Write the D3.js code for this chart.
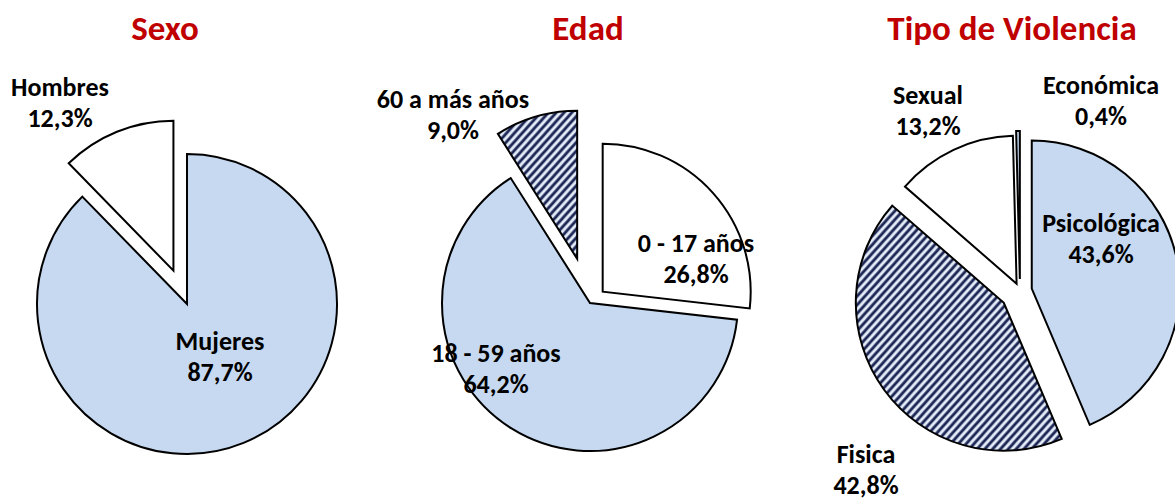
<!DOCTYPE html>
<html>
<head>
<meta charset="utf-8">
<script src="https://cdn.jsdelivr.net/npm/d3@7"></script>
<style>
  html, body { margin: 0; padding: 0; background: #fff; }
  svg { display: block; }
  text { font-family: Carlito, Lato, "Open Sans", sans-serif; font-weight: bold; }
</style>
</head>
<body>
<svg id="chart" width="1175" height="502"></svg>
<script>
// ---- data ----
const sexoCategories = ["Mujeres", "Hombres"];
const sexoValues = [87.7, 12.3];

const edadCategories = ["0 - 17 años", "18 - 59 años", "60 a más años"];
const edadValues = [26.8, 64.2, 9.0];

const tipoCategories = ["Psicológica", "Fisica", "Sexual", "Económica"];
const tipoValues = [43.6, 42.8, 13.2, 0.4];

const chartTitles = ["Sexo", "Edad", "Tipo de Violencia"];

// ---- layout / style ----
const LIGHT = "#c6d9f1";
const panels = [
  { title: chartTitles[0], titleX: 165, cx: 187, cy: 304, r: 150,
    cats: sexoCategories, vals: sexoValues,
    fills: [LIGHT, "#ffffff"], explode: [0, 36],
    labels: [[220, 350], [60, 96]] },
  { title: chartTitles[1], titleX: 588, cx: 590, cy: 303, r: 148,
    cats: edadCategories, vals: edadValues,
    fills: ["#ffffff", LIGHT, "url(#hatch)"], explode: [17, 0, 46],
    labels: [[696, 252], [496, 362], [453, 108]] },
  { title: chartTitles[2], titleX: 1012, cx: 1020, cy: 291, r: 148,
    cats: tipoCategories, vals: tipoValues,
    fills: [LIGHT, "url(#hatch)", "#ffffff", LIGHT], explode: [12, 20, 8, 12],
    labels: [[1101, 232], [866, 463], [928, 104], [1101, 94]] }
];

const svg = d3.select("#chart");
const defs = svg.append("defs");
const pat = defs.append("pattern")
  .attr("id", "hatch")
  .attr("patternUnits", "userSpaceOnUse")
  .attr("width", 5.8).attr("height", 10)
  .attr("patternTransform", "rotate(42)");
pat.append("rect").attr("width", 5.8).attr("height", 10).attr("fill", "#eef4fc");
pat.append("rect").attr("x", 0.8).attr("width", 3.6).attr("height", 10).attr("fill", "#8494bb");
pat.append("rect").attr("x", 1.5).attr("width", 2.2).attr("height", 10).attr("fill", "#151d48");

const fmt = v => v.toFixed(1).replace(".", ",") + "%";

panels.forEach(p => {
  const pie = d3.pie().sort(null).value(d => d).startAngle(0).endAngle(2 * Math.PI);
  const arcs = pie(p.vals);
  const arc = d3.arc().innerRadius(0).outerRadius(p.r);
  const g = svg.append("g").attr("transform", `translate(${p.cx},${p.cy})`);

  g.selectAll("path").data(arcs).join("path")
    .attr("d", arc)
    .attr("transform", (d, i) => {
      const a = (d.startAngle + d.endAngle) / 2;
      const e = p.explode[i];
      return `translate(${e * Math.sin(a)},${-e * Math.cos(a)})`;
    })
    .attr("fill", (d, i) => p.fills[i])
    .attr("stroke", "#000")
    .attr("stroke-width", 2)
    .attr("stroke-linejoin", "miter");

  svg.append("text")
    .attr("x", p.titleX).attr("y", 40)
    .attr("text-anchor", "middle")
    .attr("fill", "#c00000")
    .attr("font-size", 35)
    .text(p.title);

  p.cats.forEach((c, i) => {
    const [lx, ly] = p.labels[i];
    const t = svg.append("text")
      .attr("text-anchor", "middle")
      .attr("fill", "#000")
      .attr("font-size", 26);
    t.append("tspan").attr("x", lx).attr("y", ly).text(c);
    t.append("tspan").attr("x", lx).attr("y", ly + 31).text(fmt(p.vals[i]));
  });
});
</script>
</body>
</html>
